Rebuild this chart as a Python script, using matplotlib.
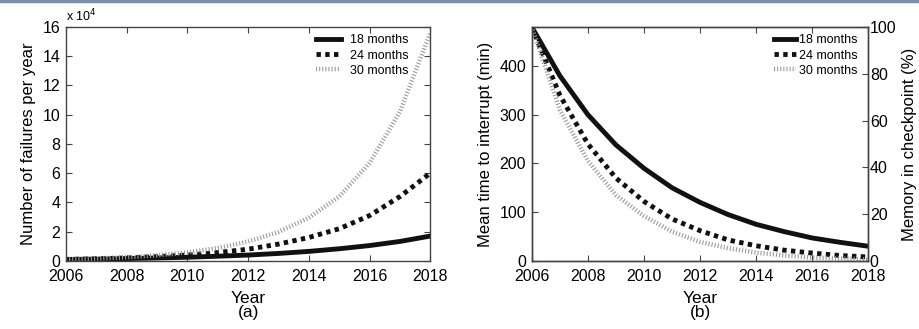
import matplotlib.pyplot as plt
from matplotlib.ticker import FuncFormatter

plt.rcParams['font.family'] = ['Liberation Sans', 'DejaVu Sans']

years = list(range(2006, 2019))
labels = ['18 months', '24 months', '30 months']

# (a) failures per year
fail_18 = [1000, 1200, 1600, 2000, 2500, 3200, 4000, 5100, 6500, 8300, 10500, 13300, 17000]
fail_24 = [1000, 1400, 2000, 2900, 4000, 5700, 8000, 11500, 16000, 22000, 31000, 44000, 60000]
fail_30 = [1000, 1600, 2500, 3800, 5800, 8800, 13200, 19800, 29500, 44000, 67000, 102000, 156000]

# (b) mean time to interrupt (min)
mtti_18 = [480, 380, 300, 238, 190, 150, 120, 95, 75, 60, 47, 38, 30]
mtti_24 = [480, 340, 240, 170, 122, 86, 62, 43, 31, 22, 16, 11, 8]
mtti_30 = [480, 310, 205, 135, 92, 60, 39, 26, 17, 11, 7, 5, 3]

styles = [
    dict(color='#111111', lw=3.5, ls='-'),
    dict(color='#111111', lw=3.5, ls=(0, (0.9, 0.9))),
    dict(color='#9a9a9a', lw=3.2, ls=(0, (0.25, 0.45))),
]
spine_col = '#444444'

fig = plt.figure(figsize=(9.2, 3.29), dpi=100)
fig.add_artist(plt.Line2D([0, 1], [0.997, 0.997], color='#7890aa', lw=2.5, transform=fig.transFigure))

def style_ax(ax):
    for s in ax.spines.values():
        s.set_color(spine_col)
        s.set_linewidth(1.0)
    ax.tick_params(direction='in', length=4, width=0.8, color=spine_col, labelsize=11.5, pad=4)
    ax.tick_params(axis='x', pad=6)

# panel a
ax1 = fig.add_axes([0.0717, 0.207, 0.396, 0.711])
for ys, lab, st in zip([fail_18, fail_24, fail_30], labels, styles):
    ax1.plot(years, ys, label=lab, **st)
ax1.set_xlim(2006, 2018)
ax1.set_ylim(0, 160000)
ax1.set_xticks(range(2006, 2019, 2))
ax1.set_yticks(range(0, 160001, 20000))
ax1.yaxis.set_major_formatter(FuncFormatter(lambda v, p: '%d' % round(v / 1e4)))
style_ax(ax1)
ax1.tick_params(top=True, right=True)
ax1.set_xlabel('Year', fontsize=12.5, labelpad=5)
ax1.set_ylabel('Number of failures per year', fontsize=12, labelpad=5)
ax1.text(0.0, 1.01, 'x 10$^4$', transform=ax1.transAxes, fontsize=9, ha='left', va='bottom')
ax1.legend(loc='upper right', frameon=False, fontsize=9, handlelength=2.0, labelspacing=0.25,
           borderaxespad=0.2, handletextpad=0.7, bbox_to_anchor=(0.96, 1.0))
fig.text(0.0717 + 0.198, 0.035, '(a)', ha='center', fontsize=12.5)

# panel b
ax2 = fig.add_axes([0.578, 0.207, 0.366, 0.711])
for ys, lab, st in zip([mtti_18, mtti_24, mtti_30], labels, styles):
    ax2.plot(years, ys, label=lab, **st)
ax2.set_xlim(2006, 2018)
ax2.set_ylim(0, 480)
ax2.set_xticks(range(2006, 2019, 2))
ax2.set_yticks(range(0, 401, 100))
style_ax(ax2)
ax2.tick_params(top=True)
ax2.set_xlabel('Year', fontsize=12.5, labelpad=5)
ax2.set_ylabel('Mean time to interrupt (min)', fontsize=12, labelpad=5)
ax2.legend(loc='upper right', frameon=False, fontsize=9, handlelength=1.8, labelspacing=0.25,
           borderaxespad=0.2, handletextpad=0.2, bbox_to_anchor=(0.99, 1.0))
ax3 = ax2.twinx()
ax3.set_ylim(0, 100)
ax3.set_yticks(range(0, 101, 20))
style_ax(ax3)
ax3.tick_params(pad=1)
ax3.set_ylabel('Memory in checkpoint (%)', fontsize=12, labelpad=4)
fig.text(0.578 + 0.183, 0.035, '(b)', ha='center', fontsize=12.5)

fig.savefig('out.png', dpi=100)
